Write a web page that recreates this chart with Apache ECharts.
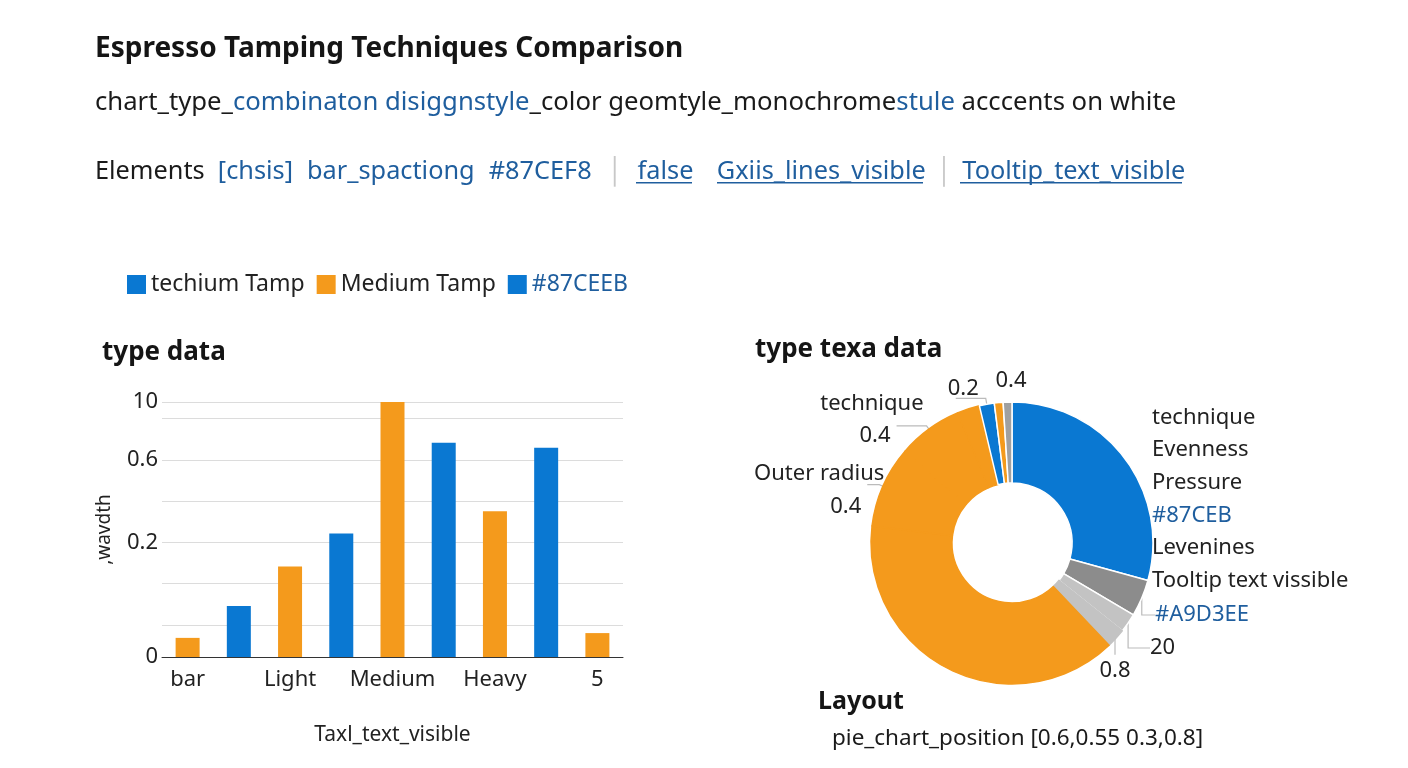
<!DOCTYPE html>
<html>
<head>
<meta charset="utf-8">
<title>Espresso Tamping Techniques Comparison</title>
<script src="https://cdn.jsdelivr.net/npm/echarts@6/dist/echarts.min.js"></script>
<style>
html, body { margin: 0; padding: 0; background: #fff; }
#main { width: 1408px; height: 768px; }
</style>
</head>
<body>
<div id="main"></div>
<script>
// bar chart
var categories = ['bar', '', 'Light', '', 'Medium', '', 'Heavy', '', '5'];
var techiumTamp = [null, 1.28, null, 3.1, null, null, null, null, null];
var mediumTamp = [0.48, null, 2.27, null, 6.4, null, 3.66, null, 0.6];
var skyTamp = [null, null, null, null, null, 5.38, null, 5.25, null];
// printed scale: '0' sits on the baseline, the rest on the gridline axis
var baseTickLabel = '0';
var yTickValues = [3, 5, 6.4];
var yTickLabels = ['0.2', '0.6', '10'];

// donut, clockwise from 12 o'clock (the big orange slice is cut in pieces to carry its labels)
var pieNames = ['technique', 'A9D3EE', 'twenty', 'zero-eight', 'orange', 'Outer radius', 'technique 2', 'orange end', 'sliver blue', 'sliver orange', 'sliver gray'];
var pieValues = [29.2, 4.2, 2.2, 2.2, 38.9, 9.3, 7.4, 2.6, 1.7, 1.0, 1.0];
var pieLabels = [
    'technique\nEvenness\nPressure\n{b|#87CEB}\nLevenines\nTooltip text vissible',
    '{b|#A9D3EE}', '20', '0.8', '', 'Outer radius\n{p|0.4}', 'technique\n{q|0.4}', '', '0.2', '', '0.4'
];

var BLUE = '#0A78D2';
var ORANGE = '#F49A1C';
var LGRAY = '#C3C3C3';
var LINK = '#1F5E9E';
var FONT = 'Noto Sans';
var pieColors = [BLUE, '#8C8C8C', LGRAY, LGRAY, ORANGE, ORANGE, ORANGE, ORANGE, BLUE, ORANGE, '#A0A0A0'];
var pieBorders = [null, null, null, LGRAY, ORANGE, ORANGE, ORANGE, ORANGE, null, null, null];

// labels moved to fixed spots: [x, y, align]
var pieLabelPos = {
    0: [1152, 499, 'left'],
    1: [1155, 615, 'left'],
    2: [1150, 648, 'left'],
    3: [1115, 671, 'center'],
    10: [1011, 381, 'center']
};
// labels left on their leader lines: [length, length2, distance, top pad, bottom pad]
var pieLineOpts = {
    5: [4, 12, -17, 12, 0],
    6: [4, 30, -27, 0, 12],
    8: [6, 30, -23, 0, 20]
};

var chart = echarts.init(document.getElementById('main'));

var pieData = pieValues.map(function (v, i) {
    var item = { name: pieNames[i], value: v, itemStyle: { color: pieColors[i] } };
    if (pieBorders[i]) item.itemStyle.borderColor = pieBorders[i];
    if (!pieLabels[i]) {
        item.label = { show: false };
        item.labelLine = { show: false };
    }
    if (i === 0 || i === 10) {
        item.labelLine = { show: false };
    }
    var o = pieLineOpts[i];
    if (o) {
        item.labelLine = { length: o[0], length2: o[1] };
        item.label = { distanceToLabelLine: o[2], padding: [o[3], 0, o[4], 0] };
    }
    return item;
});

var txt = function (size, weight, color) {
    return { fontSize: size, fontWeight: weight, color: color, fontFamily: FONT };
};

var underline = function (x1, x2, y) {
    return { type: 'rect', shape: { x: x1, y: y, width: x2 - x1, height: 1.5 }, style: { fill: LINK } };
};

var option = {
    backgroundColor: '#fff',
    animation: false,
    textStyle: { fontFamily: FONT },
    title: [
        {
            text: 'Espresso Tamping Techniques Comparison',
            left: 95, top: 35, padding: 0,
            textStyle: txt(28, 'bold', '#151515')
        },
        {
            text: '{k|chart_type_}{b|combinaton disiggnstyle}{k|_color geomtyle_monochrome}{b|stule}{k| acccents on white}',
            left: 95, top: 90, padding: 0,
            textStyle: {
                rich: {
                    k: txt(25.7, 'normal', '#1a1a1a'),
                    b: txt(25.7, 'normal', LINK)
                }
            }
        },
        {
            text: '{k|Elements  }{b|[chsis]}   {b|bar_spactiong}   {b|#87CEF8}   {s|│}   {b|false}     {b|Gxiis_lines_visible}  {s|│}  {b|Tooltip_text_visible}',
            left: 95, top: 159, padding: 0,
            textStyle: {
                rich: {
                    k: txt(25.3, 'normal', '#1a1a1a'),
                    b: txt(25.3, 'normal', LINK),
                    s: txt(25.3, 'normal', '#C8C8C8')
                }
            }
        },
        { text: 'type data', left: 102, top: 340, padding: 0, textStyle: txt(26, 'bold', '#151515') },
        { text: 'type texa data', left: 755, top: 337, padding: 0, textStyle: txt(26, 'bold', '#151515') },
        { text: 'Layout', left: 818, top: 689, padding: 0, textStyle: txt(25, 'bold', '#151515') },
        { text: 'pie_chart_position [0.6,0.55 0.3,0.8]', left: 832, top: 727, padding: 0, textStyle: txt(22.5, 'normal', '#1a1a1a') }
    ],
    graphic: [
        underline(636, 692, 182),
        underline(717, 923, 182),
        underline(960, 1182, 182)
    ],
    legend: {
        left: 127, top: 273, padding: 0,
        icon: 'rect',
        itemWidth: 19, itemHeight: 19, itemGap: 12,
        textStyle: txt(23, 'normal', '#222'),
        data: [
            { name: 'techium Tamp' },
            { name: 'Medium Tamp' },
            { name: '#87CEEB', textStyle: { color: LINK } }
        ]
    },
    grid: [
        // bars
        { left: 162, top: 402, width: 461, height: 255 },
        // gridlines: same top, lower bottom so the lines fall where the picture has them
        { left: 162, top: 402, width: 461, height: 264.3 }
    ],
    xAxis: [
        {
            type: 'category',
            gridIndex: 0,
            data: categories,
            axisLine: { lineStyle: { color: '#333', width: 1 } },
            axisTick: { show: false },
            axisLabel: { fontSize: 22, color: '#222', margin: 12, interval: 0, fontFamily: FONT },
            name: 'Taxl_text_visible',
            nameLocation: 'middle',
            nameGap: 68,
            nameTextStyle: txt(21, 'normal', '#222'),
            z: 3
        },
        {
            type: 'category',
            gridIndex: 1,
            data: categories,
            show: false
        }
    ],
    yAxis: [
        {
            type: 'value',
            gridIndex: 0,
            min: 0, max: 6.4, interval: 1,
            axisLine: { show: false },
            axisTick: { show: false },
            splitLine: { show: false },
            axisLabel: {
                fontSize: 22, color: '#222', margin: 4, showMinLabel: true, fontFamily: FONT,
                formatter: function (v) { return v === 0 ? baseTickLabel : ''; }
            },
            name: ',wavdth',
            nameLocation: 'middle',
            nameGap: 48,
            nameTextStyle: txt(19, 'normal', '#222')
        },
        {
            type: 'value',
            gridIndex: 1,
            min: 0, max: 6.4, interval: 1,
            axisLine: { show: false },
            axisTick: { show: false },
            splitLine: { show: true, showMinLine: false, lineStyle: { color: '#DCDCDC', width: 1 } },
            axisLabel: {
                fontSize: 22, color: '#222', margin: 4, showMaxLabel: true, showMinLabel: false,
                fontFamily: FONT,
                formatter: function (v) {
                    for (var i = 0; i < yTickValues.length; i++) {
                        if (Math.abs(v - yTickValues[i]) < 1e-6) return yTickLabels[i];
                    }
                    return '';
                }
            }
        }
    ],
    series: [
        { name: 'techium Tamp', type: 'bar', stack: 't', barWidth: 24, data: techiumTamp, itemStyle: { color: BLUE } },
        { name: 'Medium Tamp', type: 'bar', stack: 't', barWidth: 24, data: mediumTamp, itemStyle: { color: ORANGE } },
        { name: '#87CEEB', type: 'bar', stack: 't', barWidth: 24, data: skyTamp, itemStyle: { color: BLUE } },
        {
            name: 'type texa data',
            type: 'pie',
            center: [1012, 543],
            radius: [60, 141],
            startAngle: 90,
            clockwise: true,
            avoidLabelOverlap: false,
            emphasis: { disabled: true },
            itemStyle: { borderColor: '#fff', borderWidth: 1.5 },
            label: {
                fontSize: 22, color: '#222', lineHeight: 32.6, fontFamily: FONT,
                formatter: function (p) { return pieLabels[p.dataIndex]; },
                rich: {
                    b: { color: LINK, fontSize: 22, lineHeight: 32.6, fontFamily: FONT },
                    p: { fontSize: 22, lineHeight: 34, fontFamily: FONT, color: '#222', padding: [0, 23, 0, 0] },
                    q: { fontSize: 22, lineHeight: 33, fontFamily: FONT, color: '#222', padding: [0, 33, 0, 0] }
                }
            },
            labelLine: { length: 12, length2: 22, lineStyle: { color: '#BBBBBB', width: 1.2 } },
            labelLayout: function (p) {
                var pos = pieLabelPos[p.dataIndex];
                if (pos) {
                    return { x: pos[0], y: pos[1], align: pos[2], verticalAlign: 'middle' };
                }
            },
            data: pieData
        }
    ]
};

chart.setOption(option);
</script>
</body>
</html>
